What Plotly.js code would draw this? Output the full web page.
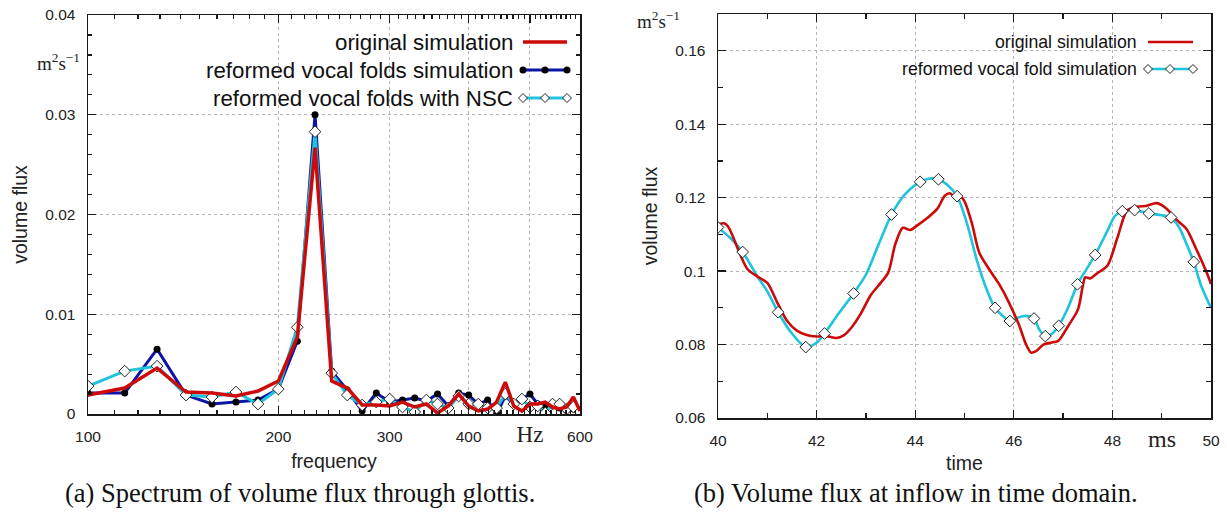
<!DOCTYPE html>
<html>
<head>
<meta charset="utf-8">
<script src="https://cdn.plot.ly/plotly-3.0.1.min.js"></script>
<style>
html,body{margin:0;padding:0;background:#fff;}
#chart{width:1227px;height:516px;}
</style>
</head>
<body>
<div id="chart"></div>
<script>
// ---------- DATA: (a) spectrum ----------
const frequencyHz = [100, 114.3, 128.6, 142.9, 157.1, 171.4, 185.7, 200, 214.3, 228.6, 242.9, 257.1,
  271.4, 285.7, 300, 314.3, 328.6, 342.9, 357.1, 371.4, 385.7, 400, 414.3, 428.6,
  442.9, 457.1, 471.4, 485.7, 500, 514.3, 528.6, 542.9, 557.1, 571.4, 585.7, 600];
const originalSpectrum = [0.0019,0.0026,0.0046,0.0022,0.0021,0.0018,0.0023,0.0033,0.0077,0.0267,
  0.0033,0.0026,0.0009,0.0009,0.0008,0.0012,0.0007,0.0010,0.0001,0.0008,
  0.0020,0.0008,0.0003,0.0005,0.0012,0.0032,0.0008,0.0003,0.0010,0.0010,
  0.0012,0.0007,0.0005,0.0007,0.0017,0.0003];
const reformedSpectrum = [0.0021,0.0021,0.0065,0.0019,0.0010,0.0012,0.0014,0.0025,0.0073,0.0300,
  0.0043,0.0024,0.0003,0.0021,0.0012,0.0014,0.0016,0.0013,0.0020,0.0008,
  0.0021,0.0019,0.0010,0.0014,0.0000,0.0018,0.0010,0.0015,0.0020,0.0010,
  0.0008,0.0009,0.0006,0.0004,0.0005,0.0004];
const nscSpectrum = [0.0028,0.0043,0.0048,0.0019,0.0017,0.0022,0.0010,0.0025,0.0087,0.0283,
  0.0041,0.0019,0.0009,0.0012,0.0015,0.0007,0.0002,0.0014,0.0010,0.0006,
  0.0018,0.0010,0.0010,0.0006,0.0006,0.0020,0.0010,0.0015,0.0007,0.0008,
  0.0001,0.0010,0.0010,0.0005,0.0007,0.0002];
const freqTickVals = [100, 200, 300, 400, 500, 600];
const freqTickText = ['100', '200', '300', '400', '<span style="font-family:Liberation Serif;font-size:23px">Hz</span>', '600'];
const fluxTickVals = [0, 0.01, 0.02, 0.03, 0.04];
const fluxTickText = ['0', '0.01', '0.02', '0.03', '0.04'];

// ---------- DATA: (b) time domain ----------
const origTime = [40.0,40.12,40.2,40.3,40.45,40.6,40.8,41.0,41.2,41.4,41.6,41.8,42.0,42.2,42.4,42.55,42.7,42.9,
  43.1,43.3,43.45,43.6,43.75,43.9,44.05,44.25,44.45,44.6,44.7,44.8,44.9,45.0,45.15,45.3,45.5,45.7,45.9,
  46.1,46.25,46.35,46.45,46.6,46.75,46.9,47.1,47.3,47.4,47.45,47.55,47.7,47.9,48.1,48.3,48.5,48.7,48.9,
  49.1,49.3,49.5,49.7,49.9,50.0];
const origFlux = [0.1127,0.1130,0.1122,0.1095,0.1045,0.1005,0.0985,0.0968,0.0915,0.0865,0.0838,0.0826,0.0822,0.0823,0.0818,0.0825,0.0845,0.0885,
  0.0935,0.0968,0.0995,0.1075,0.1118,0.1112,0.1125,0.1145,0.1170,0.1205,0.1212,0.1203,0.1205,0.1190,0.1130,0.1050,0.1005,0.0965,0.0915,
  0.0855,0.0800,0.0778,0.0782,0.0800,0.0805,0.0810,0.0850,0.0895,0.0960,0.0983,0.0980,0.0995,0.1015,0.1090,0.1165,0.1175,0.1178,0.1185,
  0.1170,0.1140,0.1115,0.1060,0.1000,0.0965];
const reformTime = [40.0,40.25,40.5,40.8,41.0,41.22,41.5,41.78,42.0,42.16,42.45,42.75,43.0,43.25,43.52,43.8,44.1,44.3,44.47,44.65,44.85,
  45.05,45.25,45.45,45.62,45.8,45.92,46.1,46.25,46.41,46.52,46.64,46.78,46.91,47.1,47.29,47.45,47.65,47.9,48.05,48.2,48.45,48.74,
  49.0,49.19,49.35,49.5,49.65,49.8,50.0];
const reformFlux = [0.1119,0.1090,0.1052,0.0985,0.0945,0.0888,0.0830,0.0793,0.0805,0.0830,0.0885,0.0939,0.0990,0.1070,0.1154,0.1210,0.1243,0.1252,0.1250,0.1235,0.1204,
  0.1130,0.1030,0.0950,0.0900,0.0875,0.0864,0.0874,0.0878,0.0871,0.0840,0.0823,0.0830,0.0851,0.0900,0.0964,0.1000,0.1044,0.1110,0.1150,0.1163,0.1166,0.1157,
  0.1152,0.1146,0.1120,0.1075,0.1025,0.0960,0.0900];
const markerTime = [40.0,40.5,41.22,41.78,42.16,42.75,43.52,44.1,44.47,44.85,45.62,45.92,46.41,46.64,46.91,47.29,47.65,48.2,48.45,48.74,49.19,49.65];
const markerFlux = [0.1119,0.1052,0.0888,0.0793,0.0830,0.0939,0.1154,0.1243,0.1250,0.1204,0.0900,0.0864,0.0871,0.0823,0.0851,0.0964,0.1044,0.1163,0.1166,0.1157,0.1146,0.1025];
const timeTickVals = [40, 42, 44, 46, 48, 50];
const timeTickText = ['40', '42', '44', '46', '48', '50'];
const flux2TickVals = [0.06, 0.08, 0.10, 0.12, 0.14, 0.16];
const flux2TickText = ['0.06', '0.08', '0.1', '0.12', '0.14', '0.16'];

// ---------- STYLE ----------
const RED = '#cc0a0a', BLUE = '#0c14a8', CYAN = '#1ec3dc';
const W = 1227, H = 516;
const px = x => x / W, py = y => 1 - y / H;
const SANS = 'Liberation Sans, Arial, sans-serif';
const SERIF = 'Liberation Serif, Times New Roman, serif';

const freqMinor = [];
for (let f = 110; f < 600; f += 10) if (f % 100 !== 0) freqMinor.push(f);

const axisBase = {
  showline: true, linecolor: '#1a1a1a', linewidth: 1.5, mirror: 'ticks',
  ticks: 'inside', ticklen: 8, tickwidth: 1.2, tickcolor: '#1a1a1a',
  showgrid: true, gridcolor: '#b4b4b4', gridwidth: 1, griddash: 'dot',
  zeroline: false, tickfont: {family: SANS, size: 15.5, color: '#222'},
  ticklabelstandoff: 8,
  fixedrange: true
};

const traces = [
  {x: frequencyHz, y: reformedSpectrum, xaxis: 'x', yaxis: 'y', mode: 'lines+markers', name: 'reformed vocal folds simulation',
   line: {color: BLUE, width: 3}, marker: {color: '#000', size: 7, symbol: 'circle'}},
  {x: frequencyHz, y: nscSpectrum, xaxis: 'x', yaxis: 'y', mode: 'lines+markers', name: 'reformed vocal folds with NSC',
   line: {color: CYAN, width: 3}, marker: {color: '#fff', size: 9, symbol: 'diamond', line: {color: '#222', width: 1}}},
  {x: frequencyHz, y: originalSpectrum, xaxis: 'x', yaxis: 'y', mode: 'lines', name: 'original simulation',
   line: {color: RED, width: 3.5}},
  {x: reformTime, y: reformFlux, xaxis: 'x2', yaxis: 'y2', mode: 'lines', name: 'reformed vocal fold simulation',
   line: {color: CYAN, width: 2.6, shape: 'spline', smoothing: 0.8}},
  {x: origTime, y: origFlux, xaxis: 'x2', yaxis: 'y2', mode: 'lines', name: 'original simulation',
   line: {color: RED, width: 2.6, shape: 'spline', smoothing: 0.8}},
  {x: markerTime, y: markerFlux, xaxis: 'x2', yaxis: 'y2', mode: 'markers', name: 'reformed vocal fold simulation markers',
   marker: {color: '#fff', size: 9, symbol: 'diamond', line: {color: '#222', width: 1}}}
];

// custom gnuplot-style keys (text right, sample left-to-right)
const shapes = [];
const annotations = [];
function keyBox(x0, y0, x1, y1) {
  shapes.push({type: 'rect', xref: 'paper', yref: 'paper', x0: px(x0), x1: px(x1), y0: py(y1), y1: py(y0),
    fillcolor: '#fff', line: {width: 0}, layer: 'between'});
}
function keyText(text, xr, y, size) {
  annotations.push({xref: 'paper', yref: 'paper', x: px(xr), y: py(y), xanchor: 'right', yanchor: 'middle',
    text: text, showarrow: false, font: {family: SANS, size: size, color: '#111'}});
}
function keyLine(x0, x1, y, color, w) {
  shapes.push({type: 'line', xref: 'paper', yref: 'paper', x0: px(x0), x1: px(x1), y0: py(y), y1: py(y),
    line: {color: color, width: w}});
}
function keyDot(x, y, r) {
  shapes.push({type: 'circle', xref: 'paper', yref: 'paper', x0: px(x - r), x1: px(x + r), y0: py(y + r), y1: py(y - r),
    fillcolor: '#000', line: {color: '#000', width: 0}});
}
function keyDiamond(x, y, r) {
  const p = `M${px(x - r)},${py(y)} L${px(x)},${py(y - r)} L${px(x + r)},${py(y)} L${px(x)},${py(y + r)} Z`;
  shapes.push({type: 'path', xref: 'paper', yref: 'paper', path: p, fillcolor: '#fff', line: {color: '#222', width: 1}});
}

// left key
keyBox(200, 17, 577, 108);
keyText('original simulation', 515, 42, 22.3);
keyText('reformed vocal folds simulation', 515, 70, 22.3);
keyText('reformed vocal folds with NSC', 515, 98, 22.3);
keyLine(523, 567, 42, RED, 3.5);
keyLine(523, 567, 70, BLUE, 3);
[523, 545, 567].forEach(x => keyDot(x, 70, 3.5));
keyLine(523, 567, 98, CYAN, 3);
[523, 545, 567].forEach(x => keyDiamond(x, 98, 4.5));

// right key
keyBox(882, 16, 1208, 84);
keyText('original simulation', 1139, 42, 17.7);
keyText('reformed vocal fold simulation', 1139, 69, 17.7);
keyLine(1148, 1193, 42, RED, 2.6);
keyLine(1148, 1193, 69, CYAN, 2.6);
[1148, 1170, 1193].forEach(x => keyDiamond(x, 69, 4.5));

// unit labels
annotations.push({xref: 'paper', yref: 'paper', x: px(58), y: py(62), xanchor: 'center', yanchor: 'middle', showarrow: false,
  text: 'm<sup>2</sup>s<sup>−1</sup>', font: {family: SERIF, size: 19, color: '#222'}});
annotations.push({xref: 'paper', yref: 'paper', x: px(658), y: py(20), xanchor: 'center', yanchor: 'middle', showarrow: false,
  text: 'm<sup>2</sup>s<sup>−1</sup>', font: {family: SERIF, size: 19, color: '#222'}});
annotations.push({xref: 'x2', yref: 'paper', x: 49, y: py(439), xanchor: 'center', yanchor: 'middle', showarrow: false,
  text: 'ms', font: {family: SERIF, size: 24, color: '#222'}});

// captions
annotations.push({xref: 'paper', yref: 'paper', x: px(300), y: py(493), xanchor: 'center', yanchor: 'middle', showarrow: false,
  text: '(a) Spectrum of volume flux through glottis.', font: {family: SERIF, size: 26.5, color: '#111'}});
annotations.push({xref: 'paper', yref: 'paper', x: px(916), y: py(493), xanchor: 'center', yanchor: 'middle', showarrow: false,
  text: '(b) Volume flux at inflow in time domain.', font: {family: SERIF, size: 26.5, color: '#111'}});

const titleFont = {family: SANS, size: 19.5, color: '#222'};
const layout = {
  width: W, height: H,
  margin: {l: 0, r: 0, t: 0, b: 0},
  paper_bgcolor: '#fff', plot_bgcolor: '#fff',
  showlegend: false,
  xaxis: Object.assign({}, axisBase, {
    domain: [px(88), px(580)], anchor: 'y', type: 'log', range: [2, Math.log10(600)],
    tickmode: 'array', tickvals: freqTickVals, ticktext: freqTickText,
    minor: {tickmode: 'array', tickvals: freqMinor, ticks: 'inside', ticklen: 4, tickcolor: '#1a1a1a', showgrid: false},
    title: {text: 'frequency', font: titleFont, standoff: 8}
  }),
  yaxis: Object.assign({}, axisBase, {
    domain: [py(414), py(15)], anchor: 'x', range: [0, 0.04],
    tickmode: 'array', tickvals: fluxTickVals, ticktext: fluxTickText,
    minor: {dtick: 0.002, ticks: 'inside', ticklen: 4, tickcolor: '#1a1a1a', showgrid: false},
    title: {text: 'volume flux', font: titleFont, standoff: 12}
  }),
  xaxis2: Object.assign({}, axisBase, {
    domain: [px(718), px(1211)], anchor: 'y2', range: [40, 50],
    tickmode: 'array', tickvals: timeTickVals, ticktext: timeTickText,
    minor: {dtick: 1, tick0: 40, ticks: 'inside', ticklen: 5, tickcolor: '#1a1a1a', showgrid: false},
    title: {text: 'time', font: titleFont, standoff: 8}
  }),
  yaxis2: Object.assign({}, axisBase, {
    domain: [py(418), py(14)], anchor: 'x2', range: [0.06, 0.17],
    tickmode: 'array', tickvals: flux2TickVals, ticktext: flux2TickText,
    minor: {dtick: 0.01, tick0: 0.06, ticks: 'inside', ticklen: 5, tickcolor: '#1a1a1a', showgrid: false},
    title: {text: 'volume flux', font: titleFont, standoff: 12}
  }),
  shapes: shapes,
  annotations: annotations
};

Plotly.newPlot('chart', traces, layout, {staticPlot: true, displayModeBar: false});
</script>
</body>
</html>
